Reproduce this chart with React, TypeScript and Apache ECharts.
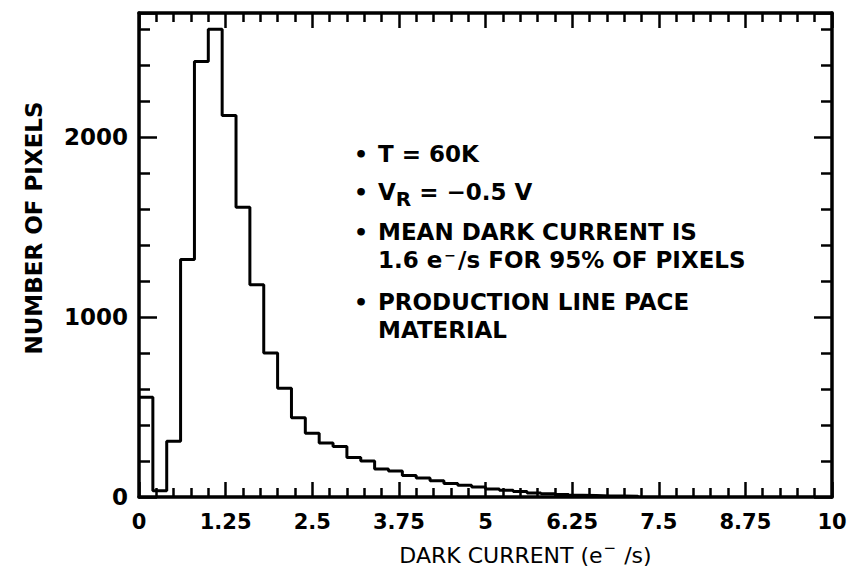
import React, { useEffect, useRef } from 'react';
import * as echarts from 'echarts';

// Histogram bins (left edge, e-/s) and counts
const binStarts = [
  0.0, 0.2, 0.4, 0.6, 0.8, 1.0, 1.2, 1.4, 1.6, 1.8,
  2.0, 2.2, 2.4, 2.6, 2.8, 3.0, 3.2, 3.4, 3.6, 3.8,
  4.0, 4.2, 4.4, 4.6, 4.8, 5.0, 5.2, 5.4, 5.6, 5.8,
  6.0, 6.2, 6.4, 6.6, 6.8, 7.0,
];
const binWidth = 0.2;
const pixelCounts = [
  555, 35, 310, 1320, 2420, 2600, 2120, 1610, 1180, 800,
  605, 440, 355, 300, 280, 220, 200, 155, 145, 120,
  105, 90, 75, 65, 55, 45, 38, 30, 22, 18,
  14, 10, 8, 6, 5, 4,
];

const xTickLabels = ['0', '1.25', '2.5', '3.75', '5', '6.25', '7.5', '8.75', '10'];
const yTickLabels = ['0', '1000', '2000'];

const xTitle = 'DARK CURRENT (e{sup|\u2212} /s)';
const yTitle = 'NUMBER OF PIXELS';

const notes = [
  { bullet: true, lines: ['T = 60K'] },
  { bullet: true, lines: ['V{sub|R} = \u22120.5 V'] },
  { bullet: true, lines: ['MEAN DARK CURRENT IS', '1.6 e{sup|\u2212}/s FOR 95% OF PIXELS'] },
  { bullet: true, lines: ['PRODUCTION LINE PACE', 'MATERIAL'] },
];

const FONT = 'DejaVu Sans';
// vertical centre of the first line of each note, and line spacing
const noteY = [154, 192, 232, 302];
const noteLineHeight = [24, 24, 28, 28];

export default function App() {
  const ref = useRef<HTMLDivElement>(null);

  useEffect(() => {
    if (!ref.current) return;
    const chart = echarts.init(ref.current, null, { renderer: 'svg' });

    const points: number[][] = binStarts.map((x, i) => [x, pixelCounts[i]]);
    points.push([binStarts[binStarts.length - 1] + binWidth, 0]);

    const black = '#000';
    const xAxisBase = {
      type: 'value',
      min: 0,
      max: 10,
      interval: 1.25,
      splitLine: { show: false },
      minorSplitLine: { show: false },
      axisLine: { show: true, onZero: false, lineStyle: { color: black, width: 3.5 } },
      axisTick: { show: true, inside: true, length: 15, lineStyle: { color: black, width: 2.5 } },
      minorTick: { show: true, splitNumber: 5, length: 9, lineStyle: { color: black, width: 2.5 } },
    };
    const yAxisBase = {
      type: 'value',
      min: 0,
      max: 2690,
      interval: 1000,
      splitLine: { show: false },
      minorSplitLine: { show: false },
      axisLine: { show: true, onZero: false, lineStyle: { color: black, width: 3.5 } },
      axisTick: { show: true, inside: true, length: 18, lineStyle: { color: black, width: 2.5 } },
      minorTick: { show: true, splitNumber: 5, length: 11, lineStyle: { color: black, width: 2.5 } },
    };

    const richStyles = {
      sub: { fontFamily: FONT, fontWeight: 'bold', fontSize: 20, color: black, lineHeight: 10, padding: [14, 0, 0, 0] },
      sup: { fontFamily: FONT, fontWeight: 'bold', fontSize: 14, color: black, lineHeight: 8, padding: [0, 2, 10, 2] },
    };

    const graphic: any[] = [];
    notes.forEach((n, i) => {
      const lh = noteLineHeight[i];
      const centerY = noteY[i] + ((n.lines.length - 1) * lh) / 2;
      if (n.bullet) {
        graphic.push({
          type: 'text',
          x: 361,
          y: noteY[i],
          silent: true,
          style: {
            text: '\u2022',
            fontFamily: FONT,
            fontWeight: 'bold',
            fontSize: 22,
            fill: black,
            align: 'center',
            verticalAlign: 'middle',
          },
        });
      }
      graphic.push({
        type: 'text',
        x: 378,
        y: centerY,
        silent: true,
        style: {
          text: n.lines.join('\n'),
          fontFamily: FONT,
          fontWeight: 'bold',
          fontSize: 23,
          lineHeight: lh,
          fill: black,
          align: 'left',
          verticalAlign: 'middle',
          rich: richStyles,
        },
      });
    });

    chart.setOption({
      animation: false,
      backgroundColor: '#fff',
      grid: { left: 139, right: 17, top: 13, bottom: 73, containLabel: false, outerBoundsMode: 'none' },
      xAxis: [
        {
          ...xAxisBase,
          position: 'bottom',
          name: xTitle,
          nameLocation: 'middle',
          nameGap: 46,
          nameMoveOverlap: false,
          nameTextStyle: {
            fontFamily: FONT,
            fontSize: 22,
            lineHeight: 24,
            color: black,
            padding: [0, 0, 0, 80],
            rich: {
              sup: { fontFamily: FONT, fontSize: 15, color: black, lineHeight: 8, padding: [0, 1, 14, 1] },
            },
          },
          axisLabel: {
            show: true,
            margin: 14,
            fontFamily: FONT,
            fontWeight: 'bold',
            fontSize: 21,
            color: black,
            formatter: (v: number) => {
              const idx = Math.round(v / 1.25);
              return Math.abs(idx * 1.25 - v) < 1e-6 ? xTickLabels[idx] ?? '' : '';
            },
          },
        },
        {
          ...xAxisBase,
          position: 'top',
          axisLabel: { show: false },
        },
      ],
      yAxis: [
        {
          ...yAxisBase,
          position: 'left',
          name: yTitle,
          nameLocation: 'middle',
          nameGap: 94,
          nameRotate: 90,
          nameMoveOverlap: false,
          nameTextStyle: {
            fontFamily: FONT,
            fontWeight: 'bold',
            fontSize: 23,
            color: black,
            padding: [0, 0, 0, 54],
          },
          axisLabel: {
            show: true,
            margin: 11,
            fontFamily: FONT,
            fontWeight: 'bold',
            fontSize: 23,
            color: black,
            showMaxLabel: false,
            formatter: (v: number) => (v % 1000 === 0 && v / 1000 < yTickLabels.length ? yTickLabels[v / 1000] : ''),
          },
        },
        {
          ...yAxisBase,
          position: 'right',
          axisLabel: { show: false },
        },
      ],
      series: [
        {
          type: 'line',
          step: 'end',
          xAxisIndex: 0,
          yAxisIndex: 0,
          data: points,
          symbol: 'none',
          lineStyle: { color: black, width: 3 },
        },
      ],
      graphic,
    });

    return () => chart.dispose();
  }, []);

  return (
    <div
      ref={ref}
      style={{ position: 'fixed', left: 0, top: 0, width: 849, height: 570, background: '#fff' }}
    />
  );
}
